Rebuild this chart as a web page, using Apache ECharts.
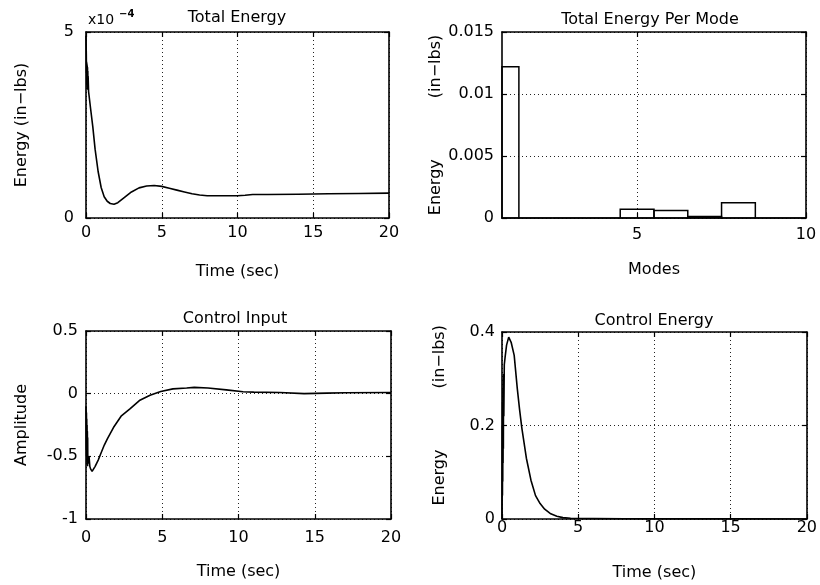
<!DOCTYPE html>
<html>
<head>
<meta charset="utf-8">
<script src="https://cdn.jsdelivr.net/npm/echarts@6/dist/echarts.min.js"></script>
<style>
html,body{margin:0;padding:0;background:#fff;}
#chart{width:820px;height:585px;}
</style>
</head>
<body>
<div id="chart"></div>
<script>
// ---- Data ----
// Total Energy (values in units of 1e-4 in-lbs)
const totalEnergyTime = [0, 0.02, 0.03, 0.04, 0.05, 0.06, 0.07, 0.08, 0.09, 0.1, 0.11, 0.12, 0.13, 0.14, 0.17, 0.3, 0.45, 0.6, 0.8, 1.0, 1.2, 1.4, 1.6, 1.85, 2.1, 2.5, 3.0, 3.5, 4.0, 4.5, 5.0, 5.5, 6.0, 6.5, 7.0, 7.5, 8.0, 9.0, 10.0, 10.5, 11.0, 12.0, 14.0, 16.0, 18.0, 20.0];
const totalEnergyE4   = [4.9, 4.4, 3.9, 4.2, 3.6, 4.15, 3.5, 4.1, 3.5, 4.05, 3.45, 3.95, 3.45, 3.8, 3.4, 2.95, 2.45, 1.85, 1.25, 0.82, 0.57, 0.45, 0.39, 0.37, 0.41, 0.54, 0.70, 0.81, 0.86, 0.875, 0.85, 0.80, 0.75, 0.70, 0.65, 0.62, 0.60, 0.60, 0.60, 0.61, 0.63, 0.63, 0.64, 0.65, 0.66, 0.67];

// Total Energy Per Mode
const modes      = [1, 2, 3, 4, 5, 6, 7, 8, 9, 10];
const modeEnergy = [0.0122, 0, 0, 0, 0.0007, 0.0006, 0.00012, 0.00123, 0, 0];
const modeTickLabels = [5, 10];

// Control Input
const controlInputTime = [0, 0.02, 0.03, 0.04, 0.05, 0.06, 0.07, 0.08, 0.09, 0.1, 0.11, 0.12, 0.15, 0.2, 0.25, 0.3, 0.4, 0.5, 0.6, 0.8, 1.0, 1.2, 1.4, 1.8, 2.3, 2.9, 3.5, 4.2, 4.9, 5.7, 6.6, 7.1, 8.0, 9.2, 10.3, 11.0, 12.7, 14.3, 15.8, 17.0, 20.0];
const controlInputAmp  = [-0.1, -0.45, -0.15, -0.5, -0.2, -0.55, -0.25, -0.57, -0.3, -0.58, -0.35, -0.56, -0.52, -0.5, -0.58, -0.6, -0.62, -0.6, -0.58, -0.53, -0.47, -0.41, -0.36, -0.27, -0.18, -0.12, -0.055, -0.012, 0.017, 0.038, 0.045, 0.05, 0.045, 0.03, 0.015, 0.012, 0.009, 0.0, 0.004, 0.007, 0.009];

// Control Energy
const controlEnergyTime = [0, 0.02, 0.03, 0.04, 0.05, 0.06, 0.07, 0.08, 0.09, 0.1, 0.12, 0.15, 0.2, 0.3, 0.44, 0.6, 0.8, 1.0, 1.15, 1.3, 1.6, 1.9, 2.2, 2.5, 2.8, 3.2, 3.6, 4.0, 4.5, 5.0, 6.0, 8.0, 10.0, 15.0, 20.0];
const controlEnergyVal  = [0, 0.2, 0.05, 0.25, 0.08, 0.28, 0.12, 0.3, 0.15, 0.31, 0.22, 0.33, 0.345, 0.372, 0.389, 0.378, 0.35, 0.28, 0.235, 0.195, 0.13, 0.083, 0.05, 0.033, 0.021, 0.011, 0.006, 0.003, 0.0015, 0.001, 0.0008, 0.0005, 0.0003, 0.0002, 0.0001];

// ---- Helpers ----
const FONT = 'DejaVu Sans';
const BLACK = '#000';
const gridLine = {show: true, lineStyle: {color: '#222', width: 1, type: [1, 3]}};
const axisLine = {show: true, onZero: false, lineStyle: {color: BLACK, width: 1.6}};
const tickIn = {show: true, inside: true, length: 5, lineStyle: {color: BLACK, width: 1.2}};
const labelStyle = {color: BLACK, fontSize: 16, fontFamily: FONT};
const nameStyle = {color: BLACK, fontSize: 16, fontFamily: FONT};

const xAxes = [], yAxes = [];
function addX(g, min, max, interval, margin, name, gap, custom) {
  const base = {type: 'value', gridIndex: g, min: min, max: max};
  if (interval != null) base.interval = interval;
  const bottom = Object.assign({}, base, {
    position: 'bottom', axisLine: axisLine,
    axisTick: custom ? Object.assign({}, tickIn, {customValues: custom}) : tickIn,
    axisLabel: Object.assign({margin: margin}, labelStyle, custom ? {customValues: custom} : {}),
    splitLine: gridLine,
    name: name, nameLocation: 'middle', nameGap: gap, nameTextStyle: nameStyle
  });
  const top = Object.assign({}, base, {
    position: 'top', axisLine: axisLine,
    axisTick: custom ? Object.assign({}, tickIn, {customValues: custom}) : tickIn,
    axisLabel: {show: false}, splitLine: {show: false}
  });
  xAxes.push(bottom, top);
  return xAxes.length - 2;
}
function addY(g, min, max, interval, margin, name, gap, fmt) {
  const base = {type: 'value', gridIndex: g, min: min, max: max, interval: interval};
  const left = Object.assign({}, base, {
    position: 'left', axisLine: axisLine, axisTick: tickIn,
    axisLabel: Object.assign({margin: margin, formatter: fmt}, labelStyle),
    splitLine: gridLine,
    name: name, nameLocation: 'middle', nameGap: gap, nameRotate: 90, nameTextStyle: nameStyle
  });
  const right = Object.assign({}, base, {
    position: 'right', axisLine: axisLine, axisTick: tickIn,
    axisLabel: {show: false}, splitLine: {show: false}
  });
  yAxes.push(left, right);
  return yAxes.length - 2;
}
function pairs(xs, ys) { return xs.map((x, i) => [x, ys[i]]); }

// Panel 1
const x0 = addX(0, 0, 20, 5, 7, 'Time (sec)', 46);
const y0 = addY(0, 0, 5, 5, 12, 'Energy (in\u2212lbs)', 56, v => String(v));
// Panel 2
const x1 = addX(1, 1, 10, null, 9, 'Modes', 44, modeTickLabels);
const y1 = addY(1, 0, 0.015, 0.005, 8, 'Energy            (in\u2212lbs)', 56);
// Panel 3
const x2 = addX(2, 0, 20, 5, 11, 'Time (sec)', 45);
const y2 = addY(2, -1, 0.5, 0.5, 8, 'Amplitude', 56);
// Panel 4
const x3 = addX(3, 0, 20, 5, 1, 'Time (sec)', 46);
const y3 = addY(3, 0, 0.4, 0.2, 7, '    Energy            (in\u2212lbs)', 54);

const lineStyle = {color: BLACK, width: 1.6};
function lineSeries(xi, yi, data) {
  return {type: 'line', xAxisIndex: xi, yAxisIndex: yi, data: data, showSymbol: false,
          symbol: 'none', lineStyle: lineStyle, clip: true, silent: true, animation: false};
}

const option = {
  backgroundColor: '#fff',
  animation: false,
  textStyle: {fontFamily: FONT},
  title: [
    {text: 'Total Energy', left: 237, top: 10, textAlign: 'center', padding: 0,
     textStyle: {fontSize: 16, fontWeight: 'normal', color: BLACK, fontFamily: FONT}},
    {text: 'Total Energy Per Mode', left: 650, top: 12, textAlign: 'center', padding: 0,
     textStyle: {fontSize: 16, fontWeight: 'normal', color: BLACK, fontFamily: FONT}},
    {text: 'Control Input', left: 235, top: 311, textAlign: 'center', padding: 0,
     textStyle: {fontSize: 16, fontWeight: 'normal', color: BLACK, fontFamily: FONT}},
    {text: 'Control Energy', left: 654, top: 313, textAlign: 'center', padding: 0,
     textStyle: {fontSize: 16, fontWeight: 'normal', color: BLACK, fontFamily: FONT}}
  ],
  graphic: [
    {type: 'text', left: 88, top: 13, style: {text: 'x10', fill: BLACK, font: '14px "DejaVu Sans"'}},
    {type: 'text', left: 119, top: 9, style: {text: '\u22124', fill: BLACK, font: 'bold 10px "DejaVu Sans"'}}
  ],
  grid: [
    {left: 86, top: 32, width: 303, height: 186},
    {left: 502, top: 32, width: 304, height: 186},
    {left: 86, top: 331, width: 305, height: 188},
    {left: 502, top: 332, width: 305, height: 187}
  ],
  xAxis: xAxes,
  yAxis: yAxes,
  series: [
    lineSeries(x0, y0, pairs(totalEnergyTime, totalEnergyE4)),
    {
      type: 'custom', xAxisIndex: x1, yAxisIndex: y1, silent: true,
      data: pairs(modes, modeEnergy),
      renderItem: function (params, api) {
        const m = api.value(0), v = api.value(1);
        const p0 = api.coord([m - 0.5, v]);
        const p1 = api.coord([m + 0.5, 0]);
        const cs = params.coordSys;
        const r = echarts.graphic.clipRectByRect(
          {x: p0[0], y: p0[1], width: p1[0] - p0[0], height: p1[1] - p0[1]},
          {x: cs.x, y: cs.y, width: cs.width, height: cs.height});
        if (!r) return null;
        return {type: 'rect', shape: r, style: {fill: 'none', stroke: BLACK, lineWidth: 1.5}};
      }
    },
    lineSeries(x2, y2, pairs(controlInputTime, controlInputAmp)),
    lineSeries(x3, y3, pairs(controlEnergyTime, controlEnergyVal))
  ]
};

const chart = echarts.init(document.getElementById('chart'), null, {renderer: 'canvas'});
chart.setOption(option);
</script>
</body>
</html>
